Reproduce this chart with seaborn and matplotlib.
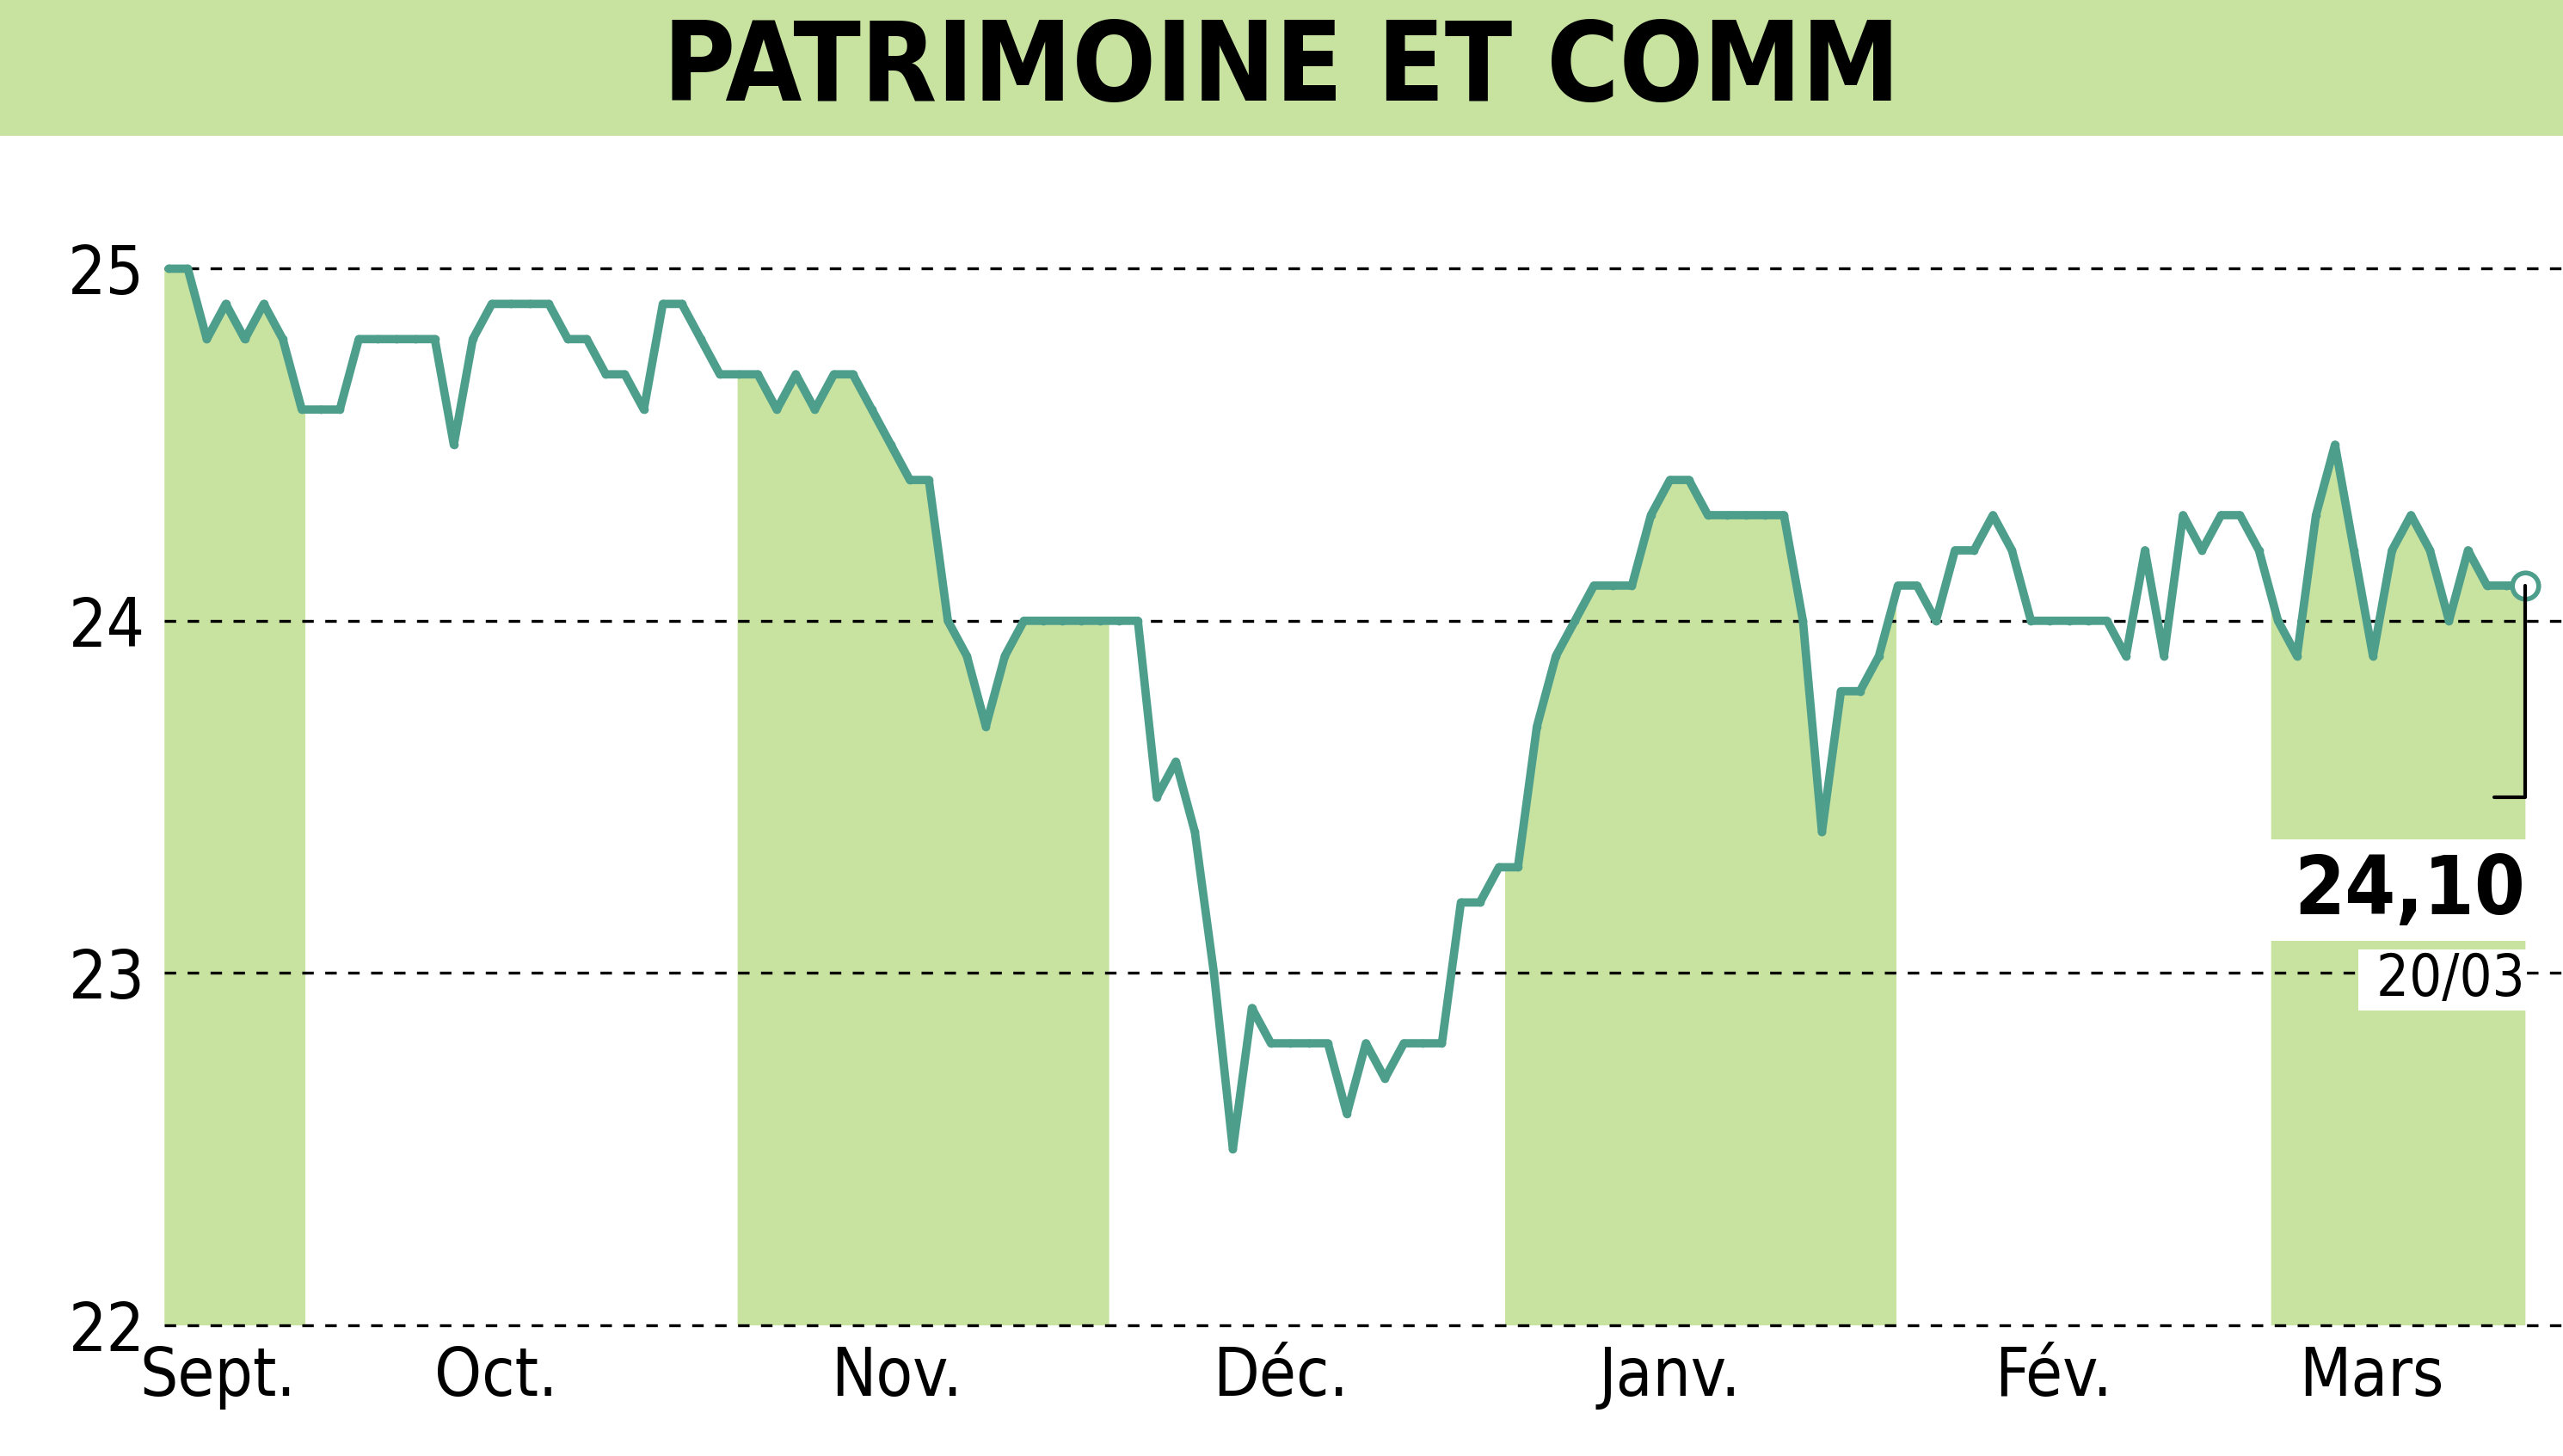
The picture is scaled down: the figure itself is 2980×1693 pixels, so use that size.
import matplotlib
matplotlib.use("Agg")
import matplotlib.pyplot as plt
import seaborn as sns
import numpy as np

prices = [25.0, 25.0, 24.8, 24.9, 24.8, 24.9, 24.8, 24.6, 24.6, 24.6, 24.8, 24.8, 24.8, 24.8,
          24.8, 24.5, 24.8, 24.9, 24.9, 24.9, 24.9, 24.8, 24.8, 24.7, 24.7, 24.6, 24.9, 24.9,
          24.8, 24.7, 24.7, 24.7, 24.6, 24.7, 24.6, 24.7, 24.7, 24.6, 24.5, 24.4, 24.4, 24.0,
          23.9, 23.7, 23.9, 24.0, 24.0, 24.0, 24.0, 24.0, 24.0, 24.0, 23.5, 23.6, 23.4, 23.0,
          22.5, 22.9, 22.8, 22.8, 22.8, 22.8, 22.6, 22.8, 22.7, 22.8, 22.8, 22.8, 23.2, 23.2,
          23.3, 23.3, 23.7, 23.9, 24.0, 24.1, 24.1, 24.1, 24.3, 24.4, 24.4, 24.3, 24.3, 24.3,
          24.3, 24.3, 24.0, 23.4, 23.8, 23.8, 23.9, 24.1, 24.1, 24.0, 24.2, 24.2, 24.3, 24.2,
          24.0, 24.0, 24.0, 24.0, 24.0, 23.9, 24.2, 23.9, 24.3, 24.2, 24.3, 24.3, 24.2, 24.0,
          23.9, 24.3, 24.5, 24.2, 23.9, 24.2, 24.3, 24.2, 24.0, 24.2, 24.1, 24.1, 24.1]
months = ["Sept.", "Oct.", "Nov.", "Déc.", "Janv.", "Fév.", "Mars"]
month_ticks = [2.6, 17.2, 38.3, 58.5, 79.0, 99.2, 115.9]
bands = [(-0.25, 7.2), (29.9, 49.5), (70.3, 90.9), (110.6, 124.3)]
yticks = [22, 23, 24, 25]

GREEN = "#c8e2a0"
LINE = "#4e9e8c"

sns.set_style("white")
plt.rcParams['font.family'] = ["DejaVu Sans"]
plt.rcParams['font.stretch'] = "condensed"
plt.rcParams['text.color'] = "black"

fig = plt.figure(figsize=(14.9, 8.465), dpi=200)
fig.patches.append(plt.Rectangle((0, 0.908), 1, 0.092, transform=fig.transFigure,
                                 color=GREEN, zorder=0))
fig.text(0.5, 0.952, "PATRIMOINE ET COMM", ha="center", va="center",
         fontsize=46, fontweight="bold", color="black", stretch="condensed")

ax = fig.add_axes([0.064, 0.09, 0.936, 0.798])
x = np.arange(len(prices))
xf = np.linspace(-0.25, len(prices) - 1, 3000)
yf = np.interp(xf, x, prices)
for a, b in bands:
    m = (xf >= a) & (xf <= b)
    ax.fill_between(xf[m], 22, yf[m], color=GREEN, lw=0, zorder=1)
sns.lineplot(x=x, y=prices, ax=ax, color=LINE, lw=3.5, marker="o", markersize=3.5,
             markeredgewidth=0, zorder=3)

last = len(prices) - 1
ax.plot([last], [prices[-1]], "o", ms=11, mfc="white", mec=LINE, mew=2, zorder=4)
ax.plot([last, last, 122.4], [prices[-1], 23.5, 23.5], color="black", lw=1.5, zorder=4)
ax.axhspan(23.09, 23.38, xmin=(109.5 + 0.25) / 126.25, xmax=(last + 0.3 + 0.25) / 126.25,
           color="white", lw=0, zorder=2)
ax.text(last, 23.23, "24,10", ha="right", va="center", fontsize=34, fontweight="bold",
        stretch="condensed", color="black", zorder=5)
ax.text(last, 22.98, " 20/03", ha="right", va="center", fontsize=24, stretch="condensed",
        color="black", bbox=dict(facecolor="white", edgecolor="none", pad=1), zorder=5)

for yv in yticks:
    ax.axhline(yv, color="black", ls=(0, (4, 4)), lw=1.2, zorder=2, clip_on=False)
ax.set_xlim(-0.25, 126)
ax.set_ylim(22, 25.3)
ax.set_yticks(yticks)
ax.set_yticklabels([str(v) for v in yticks], fontsize=28, color="black")
ax.set_xticks(month_ticks)
ax.set_xticklabels(months, fontsize=28, color="black")
ax.tick_params(length=0, pad=8)
for s in ax.spines.values():
    s.set_visible(False)

fig.savefig("out.png", dpi=200)
